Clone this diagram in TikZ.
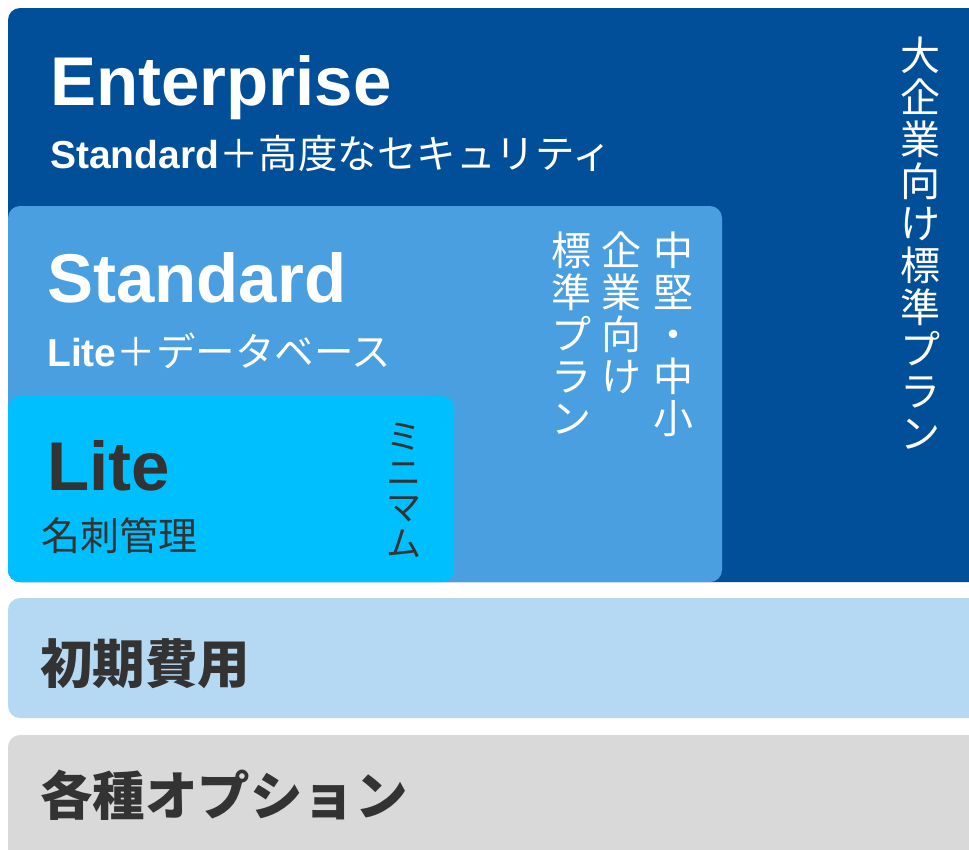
\documentclass[tikz,border=0pt]{standalone}
\usepackage{fontspec}
\setmainfont{Liberation Sans}
\newfontfamily\cjk{Noto Sans CJK JP}
\definecolor{entc}{RGB}{0,79,152}
\definecolor{stdc}{RGB}{74,159,224}
\definecolor{litec}{RGB}{0,191,255}
\definecolor{initc}{RGB}{182,217,243}
\definecolor{optc}{RGB}{217,217,217}
\definecolor{darkt}{RGB}{51,51,51}
\tikzset{
  panel/.style={rounded corners=12pt},
  bigtitle/.style={anchor=base west, inner sep=0pt, font=\fontsize{69}{69}\selectfont\bfseries},
  subtitle/.style={anchor=base west, inner sep=0pt, font=\fontsize{39}{39}\selectfont},
  vcol/.style={anchor=north, inner sep=0pt, align=center, font=\cjk\fontsize{40}{42}\selectfont},
  rowlabel/.style={anchor=base west, inner sep=0pt, font=\cjk\bfseries\fontsize{52.5}{52.5}\selectfont, text=darkt}
}
\begin{document}
\begin{tikzpicture}[x=1pt,y=-1pt]
\useasboundingbox (0,0) rectangle (969,849);
\clip (0,0) rectangle (969,849);
\fill[white] (0,0) rectangle (969,849);
% panels
\fill[entc, panel] (8,8) rectangle (990,582);
\fill[stdc, panel] (8,206) rectangle (722,582);
\fill[litec, panel] (8,396) rectangle (454,582);
\fill[initc, panel] (8,598) rectangle (990,718);
\fill[optc, panel] (8,735) rectangle (990,870);
% Enterprise
\node[bigtitle, text=white] (ent) at (50,105) {Enterprise};
\node[subtitle, text=white] (entsub) at (50,168) {\bfseries Standard\cjk\mdseries\fontsize{39.5}{39.5}\selectfont ＋高度なセキュリティ};
\node[vcol, text=white] (entv) at (920,37) {大\\企\\業\\向\\け\\標\\準\\プ\\ラ\\ン};
% Standard
\node[bigtitle, text=white] (std) at (47,302) {Standard};
\node[subtitle, text=white] (stdsub) at (47,366) {\bfseries Lite\cjk\mdseries\fontsize{39.5}{39.5}\selectfont ＋データベース};
\node[vcol, text=white] (stdv1) at (673,232) {中\\堅\\・\\中\\小};
\node[vcol, text=white] (stdv2) at (621,232) {企\\業\\向\\け};
\node[vcol, text=white] (stdv3) at (571,232) {標\\準\\プ\\ラ\\ン};
% Lite
\node[bigtitle, text=darkt] (lite) at (47,490) {Lite};
\node[anchor=base west, inner sep=0pt, font=\cjk\fontsize{39}{39}\selectfont, text=darkt] (litesub) at (41,550) {名刺管理};
\node[vcol, text=darkt, font=\cjk\fontsize{35}{35.5}\selectfont] (litev) at (404,423) {ミ\\ニ\\マ\\ム};
% rows
\node[rowlabel] (init) at (40,683) {初期費用};
\node[rowlabel] (opt) at (40,815) {各種オプション};
\end{tikzpicture}
\end{document}
